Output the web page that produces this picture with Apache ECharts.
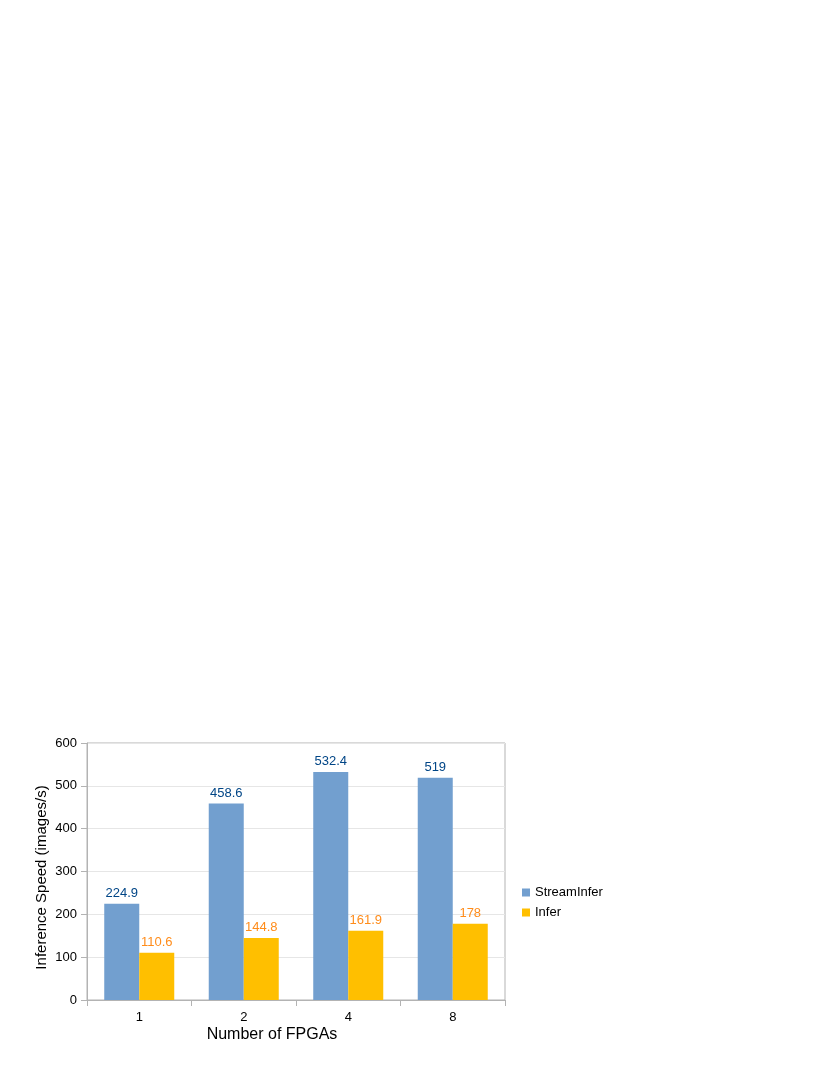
<!DOCTYPE html>
<html>
<head>
<meta charset="utf-8">
<script src="https://cdn.jsdelivr.net/npm/echarts@6/dist/echarts.min.js"></script>
<style>html,body{margin:0;padding:0;background:#fff}#c{width:830px;height:1075px}</style>
</head>
<body>
<div id="c"></div>
<script>
const categories = ['1', '2', '4', '8'];
const streamInfer = [224.9, 458.6, 532.4, 519];
const infer = [110.6, 144.8, 161.9, 178];
const yTicks = [0, 100, 200, 300, 400, 500, 600];

const chart = echarts.init(document.getElementById('c'), null, {renderer: 'canvas'});
const font = '"Liberation Sans", Arial, sans-serif';
chart.setOption({
  animation: false,
  textStyle: {fontFamily: font},
  grid: {left: 87, right: 325, top: 743, height: 257, show: true, borderColor: '#b3b3b3', borderWidth: 1, containLabel: false},
  legend: {
    orient: 'vertical', left: 522, top: 886, padding: 0, itemWidth: 8, itemHeight: 8, itemGap: 7,
    icon: 'rect',
    textStyle: {fontFamily: font, fontSize: 13, color: '#000'},
    data: ['StreamInfer', 'Infer']
  },
  xAxis: {
    type: 'category', data: categories,
    name: 'Number of FPGAs', nameLocation: 'middle', nameGap: 27, nameMoveOverlap: false,
    nameTextStyle: {fontFamily: font, fontSize: 16, color: '#000', padding: [0, 48, 0, 0]},
    axisLine: {lineStyle: {color: '#b3b3b3'}},
    axisTick: {show: true, length: 6, lineStyle: {color: '#b3b3b3'}},
    axisLabel: {fontFamily: font, fontSize: 13, color: '#000', margin: 11}
  },
  yAxis: {
    type: 'value', min: 0, max: 600, interval: 100,
    name: 'Inference Speed (images/s)', nameLocation: 'middle', nameGap: 38, nameMoveOverlap: false,
    nameTextStyle: {fontFamily: font, fontSize: 15, color: '#000', padding: [0, 12, 0, 0]},
    axisLine: {show: true, lineStyle: {color: '#b3b3b3'}},
    axisTick: {show: true, length: 6, lineStyle: {color: '#b3b3b3'}},
    axisLabel: {fontFamily: font, fontSize: 13, color: '#000', margin: 10,
      formatter: v => yTicks.includes(v) ? String(v) : ''},
    splitLine: {lineStyle: {color: '#e6e6e6'}}
  },
  series: [
    {
      name: 'StreamInfer', type: 'bar', data: streamInfer, barGap: '0%', barCategoryGap: '33%',
      itemStyle: {color: '#729fcf'},
      label: {show: true, position: 'top', distance: 4, fontFamily: font, fontSize: 13, color: '#004586'}
    },
    {
      name: 'Infer', type: 'bar', data: infer,
      itemStyle: {color: '#ffbf00'},
      label: {show: true, position: 'top', distance: 4, fontFamily: font, fontSize: 13, color: '#ff8c1a'}
    }
  ]
});
</script>
</body>
</html>
